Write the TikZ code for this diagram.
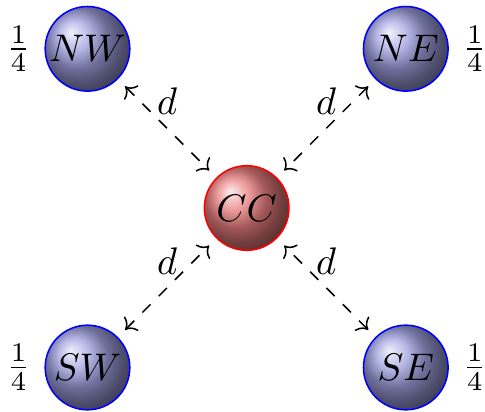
\documentclass[tikz,border=0pt]{standalone}
\usetikzlibrary{shadings,arrows.meta}
\begin{document}
\begin{tikzpicture}[x=0.26pt,y=-0.26pt,
  corner/.style={circle,draw=blue,ball color=blue!50!gray!50!white,minimum size=22pt,inner sep=0pt},
  center/.style={circle,draw=red,ball color=red!70!gray!60!white,minimum size=22pt,inner sep=0pt},
  link/.style={{To}-{To},dashed,shorten <=2.6pt,shorten >=2.6pt}]
\useasboundingbox (0,0) rectangle (485,412);
\node[corner,label=left:{$\frac{1}{4}$}] (NW) at (87.5,48.8) {$NW$};
\node[corner,label=right:{$\frac{1}{4}$}] (NE) at (405.8,48.8) {$NE$};
\node[corner,label=left:{$\frac{1}{4}$}] (SW) at (87.5,367.5) {$SW$};
\node[corner,label=right:{$\frac{1}{4}$}] (SE) at (405.8,367.5) {$SE$};
\node[center] (CC) at (246.7,208) {$CC$};
\draw[link] (NW) -- node[above] (d1) {$d$} (CC);
\draw[link] (NE) -- node[above] (d2) {$d$} (CC);
\draw[link] (SW) -- node[above] (d3) {$d$} (CC);
\draw[link] (SE) -- node[above] (d4) {$d$} (CC);
\end{tikzpicture}
\end{document}
